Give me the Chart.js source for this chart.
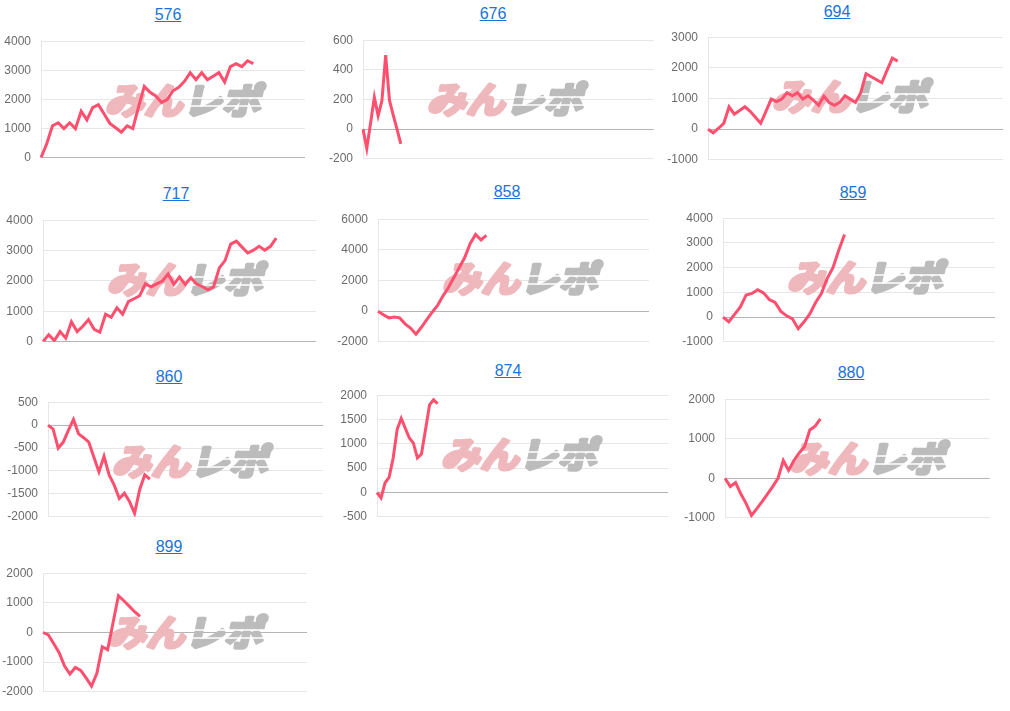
<!DOCTYPE html>
<html>
<head>
<meta charset="utf-8">
<script src="https://cdn.jsdelivr.net/npm/chart.js@4"></script>
<style>
  html, body { margin: 0; padding: 0; background: #fff; }
  body { width: 1010px; height: 711px; position: relative; overflow: hidden; font-family: Arial, "Liberation Sans", sans-serif; }
  .title { position: absolute; width: 120px; height: 18px; line-height: 18px; text-align: center; font-size: 16px; }
  .title a { color: #1a73d9; text-decoration: underline; }
  canvas { position: absolute; }
</style>
</head>
<body>
<script>
/* =========================
   データ
========================= */
const names = ["576", "676", "694", "717", "858", "859", "860", "874", "880", "899"];

const v576 = [0, 480, 1100, 1200, 1000, 1200, 1000, 1600, 1300, 1720, 1820, 1500, 1180, 1030, 880, 1100, 1000, 1750, 2450, 2250,
  2120, 1900, 2000, 2300, 2420, 2620, 2920, 2680, 2920, 2680, 2800, 2920, 2600, 3130, 3230, 3130, 3330, 3230];
const v676 = [0, -130, 40, 215, 90, 190, 500, 195, 95, 0, -100];
const v694 = [0, -120, 30, 190, 730, 490, 610, 730, 580, 385, 190, 580, 980, 900, 980, 1190, 1090, 1190, 980, 1090,
  950, 775, 1080, 870, 775, 870, 1090, 980, 870, 1190, 1810, 1710, 1610, 1515, 1925, 2320, 2220];
const v717 = [0, 235, 40, 335, 120, 660, 335, 510, 730, 410, 315, 905, 805, 1120, 905, 1320, 1415, 1515, 1905, 1810,
  1905, 2000, 2230, 1890, 2130, 1890, 2110, 1905, 1820, 1710, 1810, 2430, 2670, 3215, 3310, 3115, 2920, 3015, 3140, 3015, 3140, 3410];
const v858 = [0, -230, -440, -380, -440, -830, -1100, -1500, -1050, -550, -70, 380, 1000, 1540, 2200, 2850, 3500, 4400, 5000, 4650, 4950];
const v859 = [0, -190, 110, 410, 895, 955, 1110, 980, 710, 590, 230, 50, -70, -470, -190, 130, 590, 955, 1560, 2000, 2700, 3345];
const v860 = [0, -85, -500, -370, -115, 125, -190, -275, -370, -695, -1020, -680, -1085, -1310, -1600, -1485, -1665, -1925, -1410, -1085, -1180];
const v874 = [0, -110, 200, 310, 710, 1300, 1525, 1320, 1120, 1015, 710, 790, 1290, 1800, 1905, 1825];
const v880 = [0, -210, -110, -400, -640, -940, -770, -590, -400, -210, 0, 450, 200, 450, 640, 800, 1220, 1320, 1500];
const v899 = [0, -80, -380, -680, -1130, -1400, -1180, -1280, -1530, -1810, -1380, -480, -580, 330, 1240, 1070, 890, 700, 540];

const series = [v576, v676, v694, v717, v858, v859, v860, v874, v880, v899];

// x軸の枠数 (日数)
const slotCounts = [47, 78, 57, 49, 51, 48, 55, 73, 51, 50];

// y軸の目盛り
const yMin = [0, -200, -1000, 0, -2000, -1000, -2000, -500, -1000, -2000];
const yMax = [4000, 600, 3000, 4000, 6000, 4000, 500, 2000, 2000, 2000];
const yStep = [1000, 200, 1000, 1000, 2000, 1000, 500, 500, 1000, 1000];

/* =========================
   配置 (プロット領域 [左, 上, 右, 下] とタイトル中心)
========================= */
const boxes = [
  [41, 34, 305, 165], [363, 33, 654, 166], [708, 30, 1003, 167],
  [43, 213, 316, 349], [378, 212, 649, 349], [723, 211, 995, 349],
  [48, 395, 323, 524], [377, 388, 668, 524], [725, 392, 990, 525],
  [43, 566, 307, 699]
];
const titlePos = [
  [168, 15], [493, 14], [837, 12],
  [176, 194], [507, 192], [853, 193],
  [169, 377], [508, 371], [851, 373],
  [169, 547]
];

const AXIS_W = 50;
const PAD = 10;

Chart.defaults.font.family = 'Arial, "Liberation Sans", sans-serif';
Chart.defaults.font.size = 12;
Chart.defaults.color = "#6b6b6b";

// 透かしロゴ
const watermark = {
  id: "watermark",
  beforeDatasetsDraw(chart) {
    const { ctx, chartArea } = chart;
    const cx = chartArea.left + 145;
    const cy = chartArea.top + 58;
    ctx.save();
    ctx.font = 'bold 36px "Noto Sans CJK JP", sans-serif';
    ctx.textBaseline = "middle";
    ctx.lineJoin = "round";
    ctx.lineWidth = 3.5;
    const w1 = ctx.measureText("みん").width;
    const w2 = ctx.measureText("レポ").width;
    const sx = 156 / (w1 + w2);
    ctx.translate(cx, cy + 1);
    ctx.transform(sx, 0, -0.22, 1, 0, 0);
    const x0 = -(w1 + w2) / 2;
    ctx.fillStyle = ctx.strokeStyle = "#eeb8bc";
    ctx.fillText("みん", x0, 0);
    ctx.strokeText("みん", x0, 0);
    ctx.fillStyle = ctx.strokeStyle = "#bcbcbc";
    ctx.fillText("レポ", x0 + w1, 0);
    ctx.strokeText("レポ", x0 + w1, 0);
    // スピード線
    ctx.fillStyle = "#fff";
    ctx.fillRect(x0 + w1, -3, w2, 1.5);
    ctx.fillRect(x0 + w1, 5, w2, 1.5);
    ctx.restore();
  }
};

names.forEach((name, i) => {
  const [L, T, R, B] = boxes[i];

  const t = document.createElement("div");
  t.className = "title";
  t.style.left = (titlePos[i][0] - 60) + "px";
  t.style.top = (titlePos[i][1] - 9) + "px";
  t.innerHTML = `<a href="#">${name}</a>`;
  document.body.appendChild(t);

  const cv = document.createElement("canvas");
  cv.width = R - L + AXIS_W + 4;
  cv.height = B - T + PAD * 2;
  cv.style.left = (L - AXIS_W) + "px";
  cv.style.top = (T - PAD) + "px";
  document.body.appendChild(cv);

  const labels = Array.from({ length: slotCounts[i] }, (_, k) => k + 1);

  new Chart(cv, {
    type: "line",
    data: {
      labels,
      datasets: [{
        data: series[i],
        borderColor: "#ff4f6e",
        borderWidth: 3,
        pointRadius: 0,
        tension: 0,
        fill: false
      }]
    },
    options: {
      responsive: false,
      animation: false,
      layout: { padding: { top: PAD, bottom: PAD, left: 0, right: 4 } },
      plugins: { legend: { display: false }, tooltip: { enabled: false } },
      scales: {
        x: { display: false },
        y: {
          min: yMin[i],
          max: yMax[i],
          afterFit: (s) => { s.width = AXIS_W; },
          ticks: { stepSize: yStep[i], padding: 10, color: "#6b6b6b", callback: (v) => String(v) },
          grid: {
            drawTicks: false,
            color: (c) => c.tick && c.tick.value === 0 ? "#b4b4b4" : "#e6e6e6"
          },
          border: { display: true, color: "#e6e6e6" }
        }
      }
    },
    plugins: [watermark]
  });
});
</script>
</body>
</html>
